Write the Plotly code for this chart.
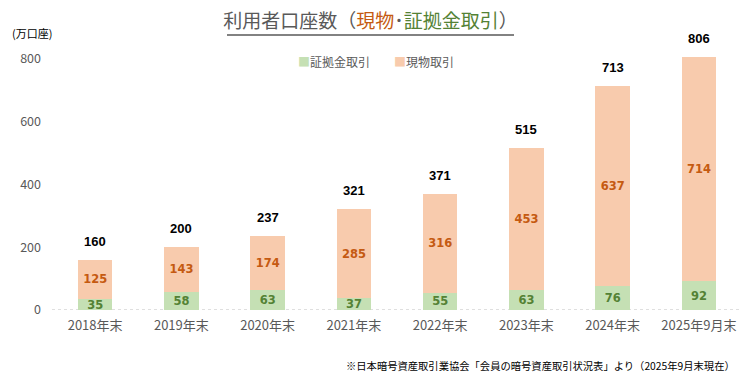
import plotly.graph_objects as go

categories = ["2018年末", "2019年末", "2020年末", "2021年末", "2022年末", "2023年末", "2024年末", "2025年9月末"]
margin_vals = [35, 58, 63, 37, 55, 63, 76, 92]
spot_vals = [125, 143, 174, 285, 316, 453, 637, 714]
totals = [160, 200, 237, 321, 371, 515, 713, 806]
y_ticks = [0, 200, 400, 600, 800]

FONT = "Noto Sans CJK JP"
NUMFONT = "DejaVu Sans"
GREEN_BAR = "#C5E0B4"
ORANGE_BAR = "#F8CBAD"
GREEN_TXT = "#548235"
ORANGE_TXT = "#C55A11"
GRAY = "#595959"

L, R, T, B = 52, 0, 45, 74
W, H = 742, 384
PH = H - T - B
PW = W - L - R

fig = go.Figure()
fig.add_trace(go.Bar(
    x=categories, y=margin_vals, name="証拠金取引", showlegend=False,
    marker=dict(color=GREEN_BAR, line=dict(width=0)),
    text=[str(v) for v in margin_vals], textposition="inside", textangle=0,
    insidetextanchor="middle", constraintext="none", cliponaxis=False,
    textfont=dict(color=GREEN_TXT, size=11.5, family=NUMFONT, weight="bold"),
))
fig.add_trace(go.Bar(
    x=categories, y=spot_vals, name="現物取引", showlegend=False,
    marker=dict(color=ORANGE_BAR, line=dict(width=0)),
    text=[str(v) for v in spot_vals], textposition="inside", textangle=0,
    insidetextanchor="middle", constraintext="none", cliponaxis=False,
    textfont=dict(color=ORANGE_TXT, size=11.5, family=NUMFONT, weight="bold"),
))

annotations = []
for c, t in zip(categories, totals):
    annotations.append(dict(
        x=c, y=t, xref="x", yref="y", text=str(t), showarrow=False,
        xanchor="center", yanchor="bottom", yshift=9,
        font=dict(color="#000000", size=13, family="Liberation Sans", weight="bold"),
    ))

annotations += [
    dict(text="(万口座)", xref="paper", yref="paper", x=(10 - L) / PW, y=(H - B - 33) / PH,
         xanchor="left", yanchor="middle", showarrow=False,
         font=dict(size=11, color="#000000", family=FONT)),
    dict(text="※日本暗号資産取引業協会「会員の暗号資産取引状況表」より（2025年9月末現在）",
         xref="paper", yref="paper", x=(737 - L) / PW, y=(H - B - 365) / PH,
         xanchor="right", yanchor="middle", showarrow=False,
         font=dict(size=10.3, color="#000000", family=FONT)),
    dict(text=("<span style='color:%s'>■</span>証拠金取引　　"
               "<span style='color:%s'>■</span>現物取引") % (GREEN_BAR, ORANGE_BAR),
         xref="paper", yref="paper", x=(376 - L) / PW, y=(H - B - 61) / PH,
         xanchor="center", yanchor="middle", showarrow=False,
         font=dict(size=12, color=GRAY, family=FONT)),
]

fig.update_layout(
    width=W, height=H,
    barmode="stack", bargap=0.6,
    plot_bgcolor="white", paper_bgcolor="white",
    margin=dict(l=L, r=R, t=T, b=B, autoexpand=False),
    font=dict(family=FONT, color=GRAY, size=12),
    showlegend=False,
    uniformtext=dict(mode=False),
    xaxis=dict(showline=False, ticks="",
               showgrid=False, automargin=False, ticklabelstandoff=6,
               tickfont=dict(size=13, color=GRAY, family=FONT)),
    yaxis=dict(range=[0, 845], tickvals=y_ticks, showgrid=False, zeroline=False,
               showline=False, automargin=False,
               tickfont=dict(size=12.5, color=GRAY, family=FONT), ticklabelstandoff=10),
    title=dict(
        text=("利用者口座数（<span style='color:%s'>現物</span>･"
              "<span style='color:%s'>証拠金取引</span>）") % (ORANGE_TXT, GREEN_TXT),
        x=(370.5) / W, xanchor="center", y=1 - 21 / H, yanchor="middle",
        font=dict(size=19, color=GRAY, family=FONT),
    ),
    annotations=annotations,
    shapes=[
        dict(type="line", xref="paper", yref="paper",
             x0=(227 - L) / PW, x1=(514 - L) / PW,
             y0=(H - B - 35) / PH, y1=(H - B - 35) / PH,
             line=dict(color=GRAY, width=1.5)),
        dict(type="line", xref="paper", yref="y", x0=0, x1=1, y0=0, y1=0,
             line=dict(color="#BFBFBF", width=1, dash="dot"), layer="below"),
    ],
)

fig.write_html("out.html", config={"displayModeBar": False},
               post_script="document.body.style.margin='0';document.body.style.overflow='hidden';")
